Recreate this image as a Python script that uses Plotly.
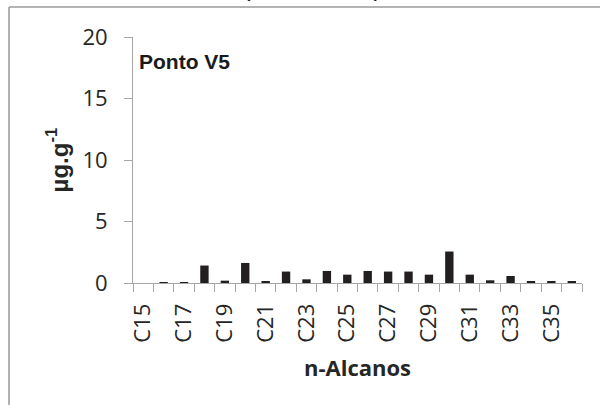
import plotly.graph_objects as go

# n-alkane concentrations at sampling point V5
carbons = ["C15", "C16", "C17", "C18", "C19", "C20", "C21", "C22", "C23", "C24", "C25",
           "C26", "C27", "C28", "C29", "C30", "C31", "C32", "C33", "C34", "C35", "C36"]
values = [0.0, 0.05, 0.02, 1.42, 0.19, 1.63, 0.11, 0.93, 0.30, 0.98, 0.68,
          0.98, 0.93, 0.93, 0.68, 2.56, 0.68, 0.22, 0.57, 0.11, 0.16, 0.11]
# only odd carbon numbers get a printed label
tick_labels = [c if int(c[1:]) % 2 == 1 else "" for c in carbons]
y_ticks = [0, 5, 10, 15, 20]

AXIS_GRAY = "#a6a6a6"
TEXT = "#262626"

fig = go.Figure(
    go.Bar(
        x=carbons,
        y=values,
        marker=dict(color="#231f20", line=dict(width=0)),
    )
)

fig.update_layout(
    width=600,
    height=405,
    margin=dict(l=133, r=18, t=37, b=122),
    paper_bgcolor="white",
    plot_bgcolor="white",
    bargap=0.59,
    showlegend=False,
    font=dict(family="Open Sans", color=TEXT),
    xaxis=dict(
        type="category",
        categoryorder="array",
        categoryarray=carbons,
        tickvals=carbons,
        ticktext=tick_labels,
        tickangle=-90,
        tickson="boundaries",
        ticks="outside",
        ticklen=8,
        tickcolor=AXIS_GRAY,
        ticklabelstandoff=11,
        showline=True,
        linecolor=AXIS_GRAY,
        linewidth=1,
        showgrid=False,
        tickfont=dict(family="Open Sans", size=22, color=TEXT),
        title=dict(text="<b>n-Alcanos</b>", font=dict(family="Open Sans", size=22, color=TEXT), standoff=18),
    ),
    yaxis=dict(
        range=[0, 20],
        tickvals=y_ticks,
        ticks="outside",
        ticklen=8,
        tickcolor=AXIS_GRAY,
        ticklabelstandoff=12,
        showline=True,
        linecolor=AXIS_GRAY,
        linewidth=1,
        showgrid=False,
        zeroline=False,
        tickfont=dict(family="Open Sans", size=22, color=TEXT),
        title=dict(text="<b>µg.g<sup>-1</sup></b>", font=dict(family="Liberation Sans", size=24, color=TEXT), standoff=7),
    ),
    annotations=[
        dict(
            text="<b>Ponto V5</b>",
            xref="paper", yref="paper",
            x=0.009, y=0.902,
            xanchor="left", yanchor="middle",
            showarrow=False,
            font=dict(family="Liberation Sans", size=21, color="#1a1a1a"),
        ),
        dict(
            text="(Conclusão)",
            xref="paper", yref="paper",
            x=0.399, y=1.135,
            xanchor="center", yanchor="bottom",
            showarrow=False,
            font=dict(family="Liberation Sans", size=26, color="#1a1a1a"),
        ),
    ],
    shapes=[
        dict(type="line", xref="paper", yref="paper",
             x0=-0.2762, x1=1.05, y0=1.122, y1=1.122,
             line=dict(color="#9a9a9a", width=1.5)),
        dict(type="line", xref="paper", yref="paper",
             x0=-0.2762, x1=-0.2762, y0=1.122, y1=-0.52,
             line=dict(color="#9a9a9a", width=1.5)),
    ],
)

fig.write_html("out.html")
